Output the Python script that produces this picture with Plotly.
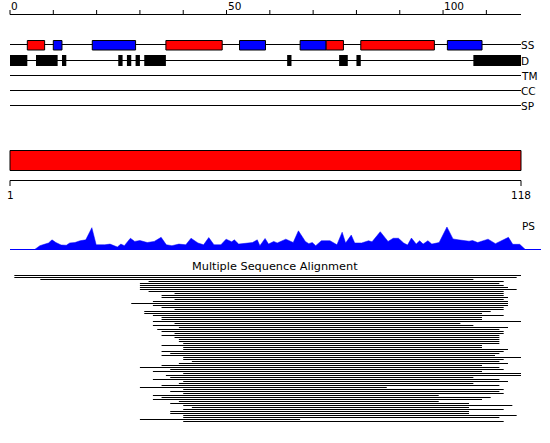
import plotly.graph_objects as go

# ---------------- data ----------------
SEQ_LEN = 118
ruler_ticks = list(range(0, 111, 10))
ruler_labels = [0, 50, 100]
end_labels = [1, 118]

# secondary structure (H = helix red, E = strand blue)
ss_start = [4, 10, 19, 36, 53, 67, 73, 81, 101]
ss_end = [8, 12, 29, 49, 59, 73, 77, 98, 109]
ss_type = ["H", "E", "E", "H", "E", "E", "H", "H", "E"]

# disorder segments
dis_start = [0, 6, 12, 25, 27, 29, 31, 64, 76, 80, 107]
dis_end = [4, 11, 13, 26, 28, 30, 36, 65, 78, 81, 118]

track_names = ["SS", "D", "TM", "CC", "SP"]

# domain bar
domain_start = [0]
domain_end = [118]

# PS profile
ps_pos = [5.7, 6.9, 8.1, 8.9, 9.7, 10.6, 11.8, 13.0, 13.8, 15.0,
          16.2, 17.5, 18.9, 19.9, 21.9, 23.1, 24.8, 25.6, 26.4, 27.8,
          28.8, 30.0, 31.7, 33.3, 34.9, 36.1, 37.4, 39.0, 40.6, 41.8,
          43.4, 44.7, 45.9, 47.1, 48.7, 49.9, 51.2, 51.8, 52.8, 54.4,
          56.0, 57.1, 57.7, 58.9, 59.7, 60.9, 61.7, 63.7, 65.4, 66.6,
          68.2, 69.0, 69.8, 70.6, 71.9, 73.9, 75.5, 76.7, 77.5, 78.8,
          79.6, 81.2, 82.8, 83.6, 85.5, 87.3, 88.5, 89.7, 90.9, 91.8,
          92.7, 93.8, 94.6, 95.4, 96.5, 97.4, 99.1, 100.9, 102.3, 103.5,
          104.7, 106.0, 106.8, 108.0, 110.4, 112.1, 115.1, 116.1, 117.7, 119.0]
ps_val = [0, 0.17, 0.24, 0.29, 0.43, 0.31, 0.2, 0.19, 0.29, 0.31,
          0.39, 0.43, 0.97, 0.21, 0.21, 0.24, 0.11, 0.24, 0.17, 0.5,
          0.36, 0.4, 0.31, 0.36, 0.54, 0.21, 0.17, 0.24, 0.21, 0.5,
          0.29, 0.21, 0.53, 0.21, 0.21, 0.46, 0.34, 0.43, 0.24, 0.29,
          0.31, 0.43, 0.17, 0.49, 0.24, 0.36, 0.29, 0.46, 0.31, 0.83,
          0.36, 0.26, 0.31, 0.17, 0.39, 0.39, 0.21, 0.77, 0.29, 0.64,
          0.29, 0.29, 0.39, 0.34, 0.79, 0.36, 0.5, 0.5, 0.29, 0.2,
          0.51, 0.24, 0.39, 0.24, 0.39, 0.24, 0.31, 1.0, 0.47, 0.43,
          0.39, 0.37, 0.4, 0.31, 0.46, 0.26, 0.54, 0.23, 0.23, 0]

# multiple sequence alignment rows (start / end residue)
msa_start = [1, 1, 7, 32, 30, 30, 30, 30, 32, 38,
             35, 35, 38, 33, 28, 33, 35, 38, 31, 31,
             33, 35, 35, 33, 38, 33, 39, 34, 35, 38,
             35, 38, 39, 39, 40, 35, 40, 40, 35, 37,
             35, 40, 40, 42, 39, 35, 30, 37, 33, 40,
             36, 37, 33, 40, 39, 35, 30, 40, 37, 40,
             33, 35, 33, 39, 37, 40, 42, 40, 37, 37,
             40, 40, 30, 40]
msa_end = [118, 117, 107, 114, 113, 114, 115, 117, 114, 114,
           114, 115, 114, 115, 115, 115, 114, 114, 111, 109,
           114, 109, 109, 118, 104, 107, 115, 113, 114, 114,
           113, 113, 113, 113, 113, 109, 109, 115, 114, 113,
           112, 118, 114, 113, 115, 109, 113, 114, 109, 118,
           118, 107, 113, 115, 107, 113, 87, 114, 113, 114,
           99, 111, 109, 99, 106, 116, 106, 114, 106, 106,
           117, 113, 67, 114]

# ---------------- layout constants ----------------
W, H = 550, 443
X0_PX, X1_PX = 10, 521
scale = (X1_PX - X0_PX) / SEQ_LEN
x_range = [-X0_PX / scale, (W - X0_PX) / scale]
FONT = "DejaVu Sans"
RED, BLUE, BLACK = "#ff0000", "#0000ff", "#000000"

track_y = [44.5, 60.5, 75.5, 90.5, 105.5]

shapes = []
annotations = []

# top ruler
shapes.append(dict(type="line", xref="x", yref="y", x0=0, x1=SEQ_LEN, y0=14.5, y1=14.5,
                   line=dict(color=BLACK, width=1)))
for t in ruler_ticks:
    shapes.append(dict(type="line", xref="x", yref="y", x0=t, x1=t, y0=10, y1=14.5,
                       line=dict(color=BLACK, width=1)))
for t in ruler_labels:
    annotations.append(dict(x=t, y=6, xref="x", yref="y", text=str(t), showarrow=False,
                            xanchor="left", yanchor="middle", xshift=-1,
                            font=dict(family=FONT, size=10.5, color=BLACK)))

# track lines + labels
for name, ty in zip(track_names, track_y):
    shapes.append(dict(type="line", xref="x", yref="y", x0=0, x1=SEQ_LEN, y0=ty, y1=ty,
                       line=dict(color=BLACK, width=1)))
    annotations.append(dict(x=SEQ_LEN, y=ty, xref="x", yref="y", text=name, showarrow=False,
                            xanchor="left", yanchor="middle", xshift=-2,
                            font=dict(family=FONT, size=10.5, color=BLACK)))

# SS boxes
for s, e, t in zip(ss_start, ss_end, ss_type):
    shapes.append(dict(type="rect", xref="x", yref="y", x0=s, x1=e, y0=40.5, y1=50.0,
                       fillcolor=RED if t == "H" else BLUE, line=dict(color=BLACK, width=1)))
# disorder boxes
for s, e in zip(dis_start, dis_end):
    shapes.append(dict(type="rect", xref="x", yref="y", x0=s, x1=e, y0=55, y1=66,
                       fillcolor=BLACK, line=dict(width=0)))

# domain bar
for s, e in zip(domain_start, domain_end):
    shapes.append(dict(type="rect", xref="x", yref="y", x0=s, x1=e, y0=150.5, y1=170.5,
                       fillcolor=RED, line=dict(color=BLACK, width=1)))

# bottom ruler
shapes.append(dict(type="line", xref="x", yref="y", x0=0, x1=SEQ_LEN, y0=180.5, y1=180.5,
                   line=dict(color=BLACK, width=1)))
for t in end_labels:
    xt = t - 1 if t == 1 else t
    shapes.append(dict(type="line", xref="x", yref="y", x0=xt, x1=xt, y0=180.5, y1=186,
                       line=dict(color=BLACK, width=1)))
    annotations.append(dict(x=xt, y=195, xref="x", yref="y", text=str(t), showarrow=False,
                            xanchor="center", yanchor="middle",
                            font=dict(family=FONT, size=10.5, color=BLACK)))

# PS baseline + label
shapes.append(dict(type="line", xref="x", yref="y", x0=0, x1=(541 - X0_PX) / scale,
                   y0=249.5, y1=249.5, line=dict(color=BLUE, width=1)))
annotations.append(dict(x=SEQ_LEN, y=226, xref="x", yref="y", text="PS", showarrow=False,
                        xanchor="left", yanchor="middle", xshift=-1,
                        font=dict(family=FONT, size=10.5, color=BLACK)))

# MSA title
annotations.append(dict(x=0.5, y=266, xref="paper", yref="y", text="Multiple Sequence Alignment",
                        showarrow=False, xanchor="center", yanchor="middle",
                        font=dict(family=FONT, size=11.3, color=BLACK)))

fig = go.Figure()

# PS profile
fig.add_trace(go.Scatter(x=ps_pos, y=ps_val, yaxis="y2", mode="lines", fill="tozeroy",
                         fillcolor=BLUE, line=dict(color=BLUE, width=0.5),
                         hoverinfo="skip", showlegend=False))

# MSA
mx, my = [], []
for i, (s, e) in enumerate(zip(msa_start, msa_end)):
    mx += [s, e, None]
    my += [i, i, None]
fig.add_trace(go.Scatter(x=mx, y=my, yaxis="y3", mode="lines",
                         line=dict(color=BLACK, width=1), hoverinfo="skip", showlegend=False))

n_rows = len(msa_start)
msa_top_px = 274.5
msa_bot_px = msa_top_px + 2 * n_rows
ps_base_px, ps_top_px = 249.5, 227.0

fig.update_layout(
    width=W, height=H, autosize=False,
    margin=dict(l=0, r=0, t=0, b=0, pad=0),
    paper_bgcolor="white", plot_bgcolor="white",
    showlegend=False,
    xaxis=dict(range=x_range, visible=False, fixedrange=True),
    yaxis=dict(range=[H, 0], visible=False, domain=[0, 1], fixedrange=True),
    yaxis2=dict(range=[0, 1], visible=False, anchor="x", fixedrange=True,
                domain=[(H - ps_base_px) / H, (H - ps_top_px) / H]),
    yaxis3=dict(range=[n_rows - 0.5, -0.5], visible=False, anchor="x", fixedrange=True,
                domain=[(H - msa_bot_px) / H, (H - msa_top_px) / H]),
    shapes=shapes,
    annotations=annotations,
)

fig.write_html("out.html", config={"displayModeBar": False},
               post_script="document.body.style.margin='0';document.body.style.overflow='hidden';")
